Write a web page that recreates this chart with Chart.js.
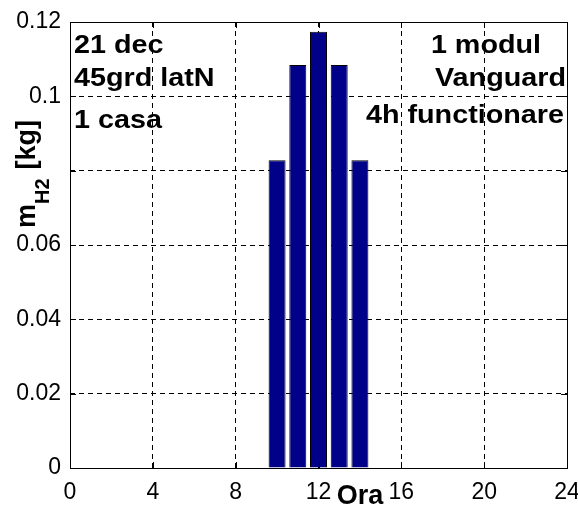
<!DOCTYPE html>
<html>
<head>
<meta charset="utf-8">
<script src="https://cdn.jsdelivr.net/npm/chart.js@4/dist/chart.umd.min.js"></script>
<style>
  html, body { margin: 0; padding: 0; background: #fff; }
  #wrap { width: 578px; height: 511px; position: relative; }
</style>
</head>
<body>
<div id="wrap"><canvas id="chart"></canvas></div>
<script>
// Hour of day and produced hydrogen mass (kg)
const hours = [10, 11, 12, 13, 14];
const massH2 = [0.0828, 0.1084, 0.1174, 0.1084, 0.0828];

// Axis ticks
const xTicks = [0, 4, 8, 12, 16, 20, 24];
const yTicks = [0, 0.02, 0.04, 0.06, 0.08, 0.1, 0.12];
const yTickLabels = ['0', '0.02', '0.04', '0.06', '', '0.1', '0.12'];

// Annotation lines
const leftNotes = ['21 dec', '45grd latN', '1 casa'];
const rightNotes = ['1 modul', 'Vanguard', '4h functionare'];

const FONT = "'Liberation Sans', Arial, sans-serif";

function drawText(ctx, text, x, y, align, size, sx) {
  ctx.save();
  ctx.font = 'bold ' + size + 'px ' + FONT;
  ctx.fillStyle = '#000';
  ctx.textBaseline = 'alphabetic';
  const w = ctx.measureText(text).width * sx;
  let left = x;
  if (align === 'right') left = x - w;
  else if (align === 'center') left = x - w / 2;
  ctx.translate(left, y);
  ctx.scale(sx, 1);
  ctx.textAlign = 'left';
  ctx.fillText(text, 0, 0);
  ctx.restore();
}

const decorations = {
  id: 'decorations',
  afterDatasetsDraw(chart) {
    const { ctx, chartArea: a, scales } = chart;
    ctx.save();
    // axes box
    ctx.strokeStyle = '#000';
    ctx.lineWidth = 1;
    ctx.strokeRect(a.left + 0.5, a.top + 0.5, a.right - a.left, a.bottom - a.top);
    // inward tick marks
    ctx.beginPath();
    xTicks.forEach(v => {
      const px = Math.round(scales.x.getPixelForValue(v)) + 0.5;
      ctx.moveTo(px, a.bottom); ctx.lineTo(px, a.bottom - 6);
      ctx.moveTo(px, a.top); ctx.lineTo(px, a.top + 6);
    });
    yTicks.forEach(v => {
      const py = Math.round(scales.y.getPixelForValue(v)) + 0.5;
      ctx.moveTo(a.left, py); ctx.lineTo(a.left + 6, py);
      ctx.moveTo(a.right, py); ctx.lineTo(a.right - 6, py);
    });
    ctx.stroke();
    ctx.restore();

    // notes
    const lx = a.left + 4;
    const lys = [53, 86, 128];
    leftNotes.forEach((t, i) => drawText(ctx, t, lx, lys[i], 'left', 25, 1.15));
    const rys = [53, 86, 123];
    drawText(ctx, rightNotes[0], 486, rys[0], 'center', 25, 1.15);
    drawText(ctx, rightNotes[1], a.right - 1, rys[1], 'right', 25, 1.15);
    drawText(ctx, rightNotes[2], a.right - 3, rys[2], 'right', 25, 1.15);

    // x title
    drawText(ctx, 'Ora', 360, 504, 'center', 27, 1.0);

    // y title: m_H2 [kg], rotated
    ctx.save();
    ctx.translate(35, 228);
    ctx.rotate(-Math.PI / 2);
    ctx.fillStyle = '#000';
    ctx.textBaseline = 'alphabetic';
    ctx.font = 'bold 27px ' + FONT;
    ctx.fillText('m', 0, 0);
    let off = ctx.measureText('m').width;
    ctx.font = 'bold 20px ' + FONT;
    ctx.fillText('H2', off, 14);
    off += ctx.measureText('H2').width + 9;
    ctx.font = 'bold 27px ' + FONT;
    ctx.fillText('[kg]', off, 0);
    ctx.restore();
  }
};

new Chart(document.getElementById('chart'), {
  type: 'bar',
  data: {
    datasets: [{
      data: hours.map((h, i) => ({ x: h, y: massH2[i] })),
      backgroundColor: '#000088',
      borderColor: '#000',
      borderWidth: 1,
      barPercentage: 0.82,
      categoryPercentage: 1.0
    }]
  },
  options: {
    responsive: true,
    maintainAspectRatio: false,
    animation: false,
    layout: { padding: { top: 22, right: 11, left: 0, bottom: 0 } },
    plugins: { legend: { display: false }, tooltip: { enabled: false } },
    scales: {
      x: {
        type: 'linear',
        min: 0,
        max: 24,
        offset: false,
        afterBuildTicks: s => { s.ticks = xTicks.map(v => ({ value: v })); },
        afterFit: s => { s.height = 43; s.paddingLeft = 0; s.paddingRight = 0; },
        grid: {
          offset: false,
          drawTicks: false,
          color: c => (c.tick && (c.tick.value === 0 || c.tick.value === 24)) ? 'rgba(0,0,0,0)' : '#000',
          lineWidth: 1
        },
        border: { display: false, dash: [5, 4] },
        ticks: {
          padding: 11,
          color: '#000',
          font: { family: FONT, size: 23 },
          maxRotation: 0,
          autoSkip: false,
          callback: v => String(v)
        }
      },
      y: {
        min: 0,
        max: 0.12,
        afterBuildTicks: s => { s.ticks = yTicks.map(v => ({ value: v })); },
        afterFit: s => { s.width = 70; s.paddingTop = 0; s.paddingBottom = 0; },
        grid: {
          drawTicks: false,
          color: c => (c.index === 0 || c.index === yTicks.length - 1) ? 'rgba(0,0,0,0)' : '#000',
          lineWidth: 1
        },
        border: { display: false, dash: [5, 4] },
        ticks: {
          padding: 9,
          color: '#000',
          font: { family: FONT, size: 23 },
          autoSkip: false,
          callback: (v, i) => yTickLabels[i]
        }
      }
    }
  },
  plugins: [decorations]
});
</script>
</body>
</html>
